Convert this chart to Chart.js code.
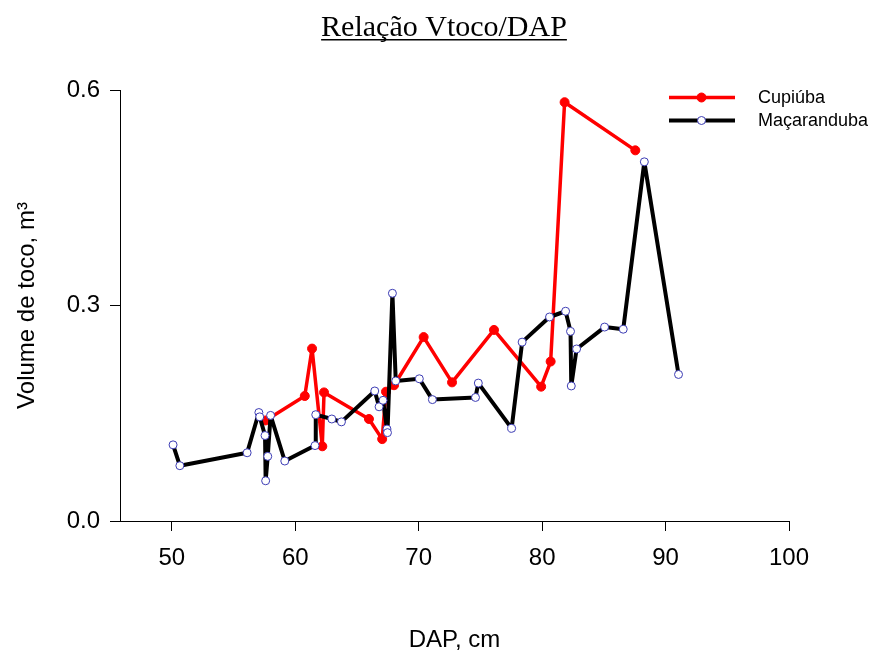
<!DOCTYPE html>
<html>
<head>
<meta charset="utf-8">
<script src="https://cdn.jsdelivr.net/npm/chart.js@4.4.1/dist/chart.umd.min.js"></script>
<style>
html,body{margin:0;padding:0;background:#ffffff;}
#wrap{width:872px;height:652px;position:relative;}
</style>
</head>
<body>
<div id="wrap"><canvas id="c" width="872" height="652"></canvas></div>
<script>
// ---- data ----
const chartTitle = 'Relação Vtoco/DAP';
const xTitle = 'DAP, cm';
const yTitle = 'Volume de toco, m³';
const seriesNames = ['Cupiúba', 'Maçaranduba'];

const cupiubaDAP = [57.6, 60.77, 61.36, 62.19, 62.33, 65.97, 67.04, 67.35, 68.0, 70.4, 72.7, 76.1, 79.92, 80.69, 81.82, 87.55];
const cupiubaVol = [0.140, 0.174, 0.240, 0.104, 0.179, 0.142, 0.114, 0.180, 0.189, 0.256, 0.193, 0.266, 0.187, 0.222, 0.583, 0.516];

const macarandubaDAP = [50.1, 50.65, 56.1, 57.05, 57.12, 57.55, 57.6, 57.77, 58.0, 59.15, 61.6, 61.66, 62.96, 63.74, 66.44, 66.79, 67.11, 67.43, 67.47, 67.87, 68.14, 70.05, 71.11, 74.6, 74.83, 77.53, 78.38, 80.6, 81.9, 82.3, 82.36, 82.79, 85.06, 86.57, 88.28, 91.05];
const macarandubaVol = [0.106, 0.077, 0.095, 0.151, 0.145, 0.119, 0.056, 0.090, 0.147, 0.0835, 0.105, 0.148, 0.142, 0.138, 0.181, 0.159, 0.168, 0.128, 0.123, 0.317, 0.195, 0.198, 0.169, 0.172, 0.192, 0.129, 0.249, 0.284, 0.292, 0.264, 0.188, 0.2395, 0.270, 0.267, 0.500, 0.204];

const xTicks = [50, 60, 70, 80, 90, 100];
const yTicks = [0.0, 0.3, 0.6];
const xMin = 45.8, xMax = 100, yMin = 0, yMax = 0.6;

// ---- chart ----
const SANS = '"Liberation Sans", Arial, Helvetica, sans-serif';
const SERIF = '"Liberation Serif", "Times New Roman", serif';

const toPoints = (xs, ys) => xs.map((x, i) => ({x: x, y: ys[i]}));

const titlePlugin = {
  id: 'underlinedTitle',
  afterDraw(chart) {
    const ctx = chart.ctx;
    ctx.save();
    ctx.font = '30px ' + SERIF;
    ctx.fillStyle = '#000';
    ctx.textAlign = 'center';
    ctx.textBaseline = 'alphabetic';
    const cx = 444, by = 36;
    ctx.fillText(chartTitle, cx, by);
    const w = ctx.measureText(chartTitle).width;
    ctx.fillRect(cx - w / 2, 39, w, 1.5);
    ctx.restore();
  }
};

const legendPlugin = {
  id: 'lineLegend',
  afterDraw(chart) {
    const ctx = chart.ctx;
    ctx.save();
    chart.data.datasets.forEach((ds, i) => {
      const y = 97.5 + i * 23;
      ctx.strokeStyle = ds.borderColor;
      ctx.lineWidth = ds.borderWidth;
      ctx.beginPath();
      ctx.moveTo(669, y);
      ctx.lineTo(735, y);
      ctx.stroke();
      ctx.beginPath();
      ctx.arc(701.5, y, ds.pointRadius, 0, Math.PI * 2);
      ctx.fillStyle = ds.pointBackgroundColor;
      ctx.fill();
      ctx.lineWidth = ds.pointBorderWidth;
      ctx.strokeStyle = ds.pointBorderColor;
      ctx.stroke();
      ctx.fillStyle = '#000';
      ctx.font = '18px ' + SANS;
      ctx.textAlign = 'left';
      ctx.textBaseline = 'middle';
      ctx.fillText(ds.label, 758, y + 1);
    });
    ctx.restore();
  }
};

new Chart(document.getElementById('c'), {
  type: 'line',
  data: {
    datasets: [
      {
        label: seriesNames[0],
        data: toPoints(cupiubaDAP, cupiubaVol),
        borderColor: '#ff0000',
        borderWidth: 3.5,
        borderJoinStyle: 'round',
        pointRadius: 4.5,
        pointBackgroundColor: '#ff0000',
        pointBorderColor: '#ff0000',
        pointBorderWidth: 1,
        tension: 0,
        order: 2
      },
      {
        label: seriesNames[1],
        data: toPoints(macarandubaDAP, macarandubaVol),
        borderColor: '#000000',
        borderWidth: 4,
        borderJoinStyle: 'round',
        pointRadius: 4,
        pointBackgroundColor: '#ffffff',
        pointBorderColor: '#3c3cb4',
        pointBorderWidth: 1,
        tension: 0,
        order: 1
      }
    ]
  },
  options: {
    responsive: false,
    animation: false,
    devicePixelRatio: 1,
    layout: {padding: {top: 90, right: 83, bottom: 0, left: 0}},
    plugins: {
      legend: {display: false},
      title: {display: false},
      tooltip: {enabled: false}
    },
    scales: {
      x: {
        type: 'linear',
        min: xMin,
        max: xMax,
        afterBuildTicks: s => { s.ticks = xTicks.map(v => ({value: v})); },
        afterFit: s => { s.height = 131; },
        grid: {drawOnChartArea: false, drawTicks: true, tickLength: 10, color: '#000', lineWidth: 1},
        border: {display: true, color: '#000', width: 1},
        ticks: {
          font: {family: SANS, size: 24},
          color: '#000',
          padding: 13,
          maxRotation: 0,
          autoSkip: false,
          callback: v => String(v)
        },
        title: {
          display: true,
          text: xTitle,
          color: '#000',
          font: {family: SANS, size: 24, lineHeight: 1},
          padding: {top: 0, bottom: 0}
        }
      },
      y: {
        type: 'linear',
        min: yMin,
        max: yMax,
        afterBuildTicks: s => { s.ticks = yTicks.map(v => ({value: v})); },
        afterFit: s => { s.width = 120; },
        grid: {drawOnChartArea: false, drawTicks: true, tickLength: 10, color: '#000', lineWidth: 1},
        border: {display: true, color: '#000', width: 1},
        ticks: {
          font: {family: SANS, size: 24},
          color: '#000',
          padding: 10,
          callback: v => Number(v).toFixed(1)
        },
        title: {
          display: true,
          text: yTitle,
          color: '#000',
          font: {family: SANS, size: 24, lineHeight: 1},
          padding: {top: 15, bottom: 0}
        }
      }
    }
  },
  plugins: [titlePlugin, legendPlugin]
});
</script>
</body>
</html>
